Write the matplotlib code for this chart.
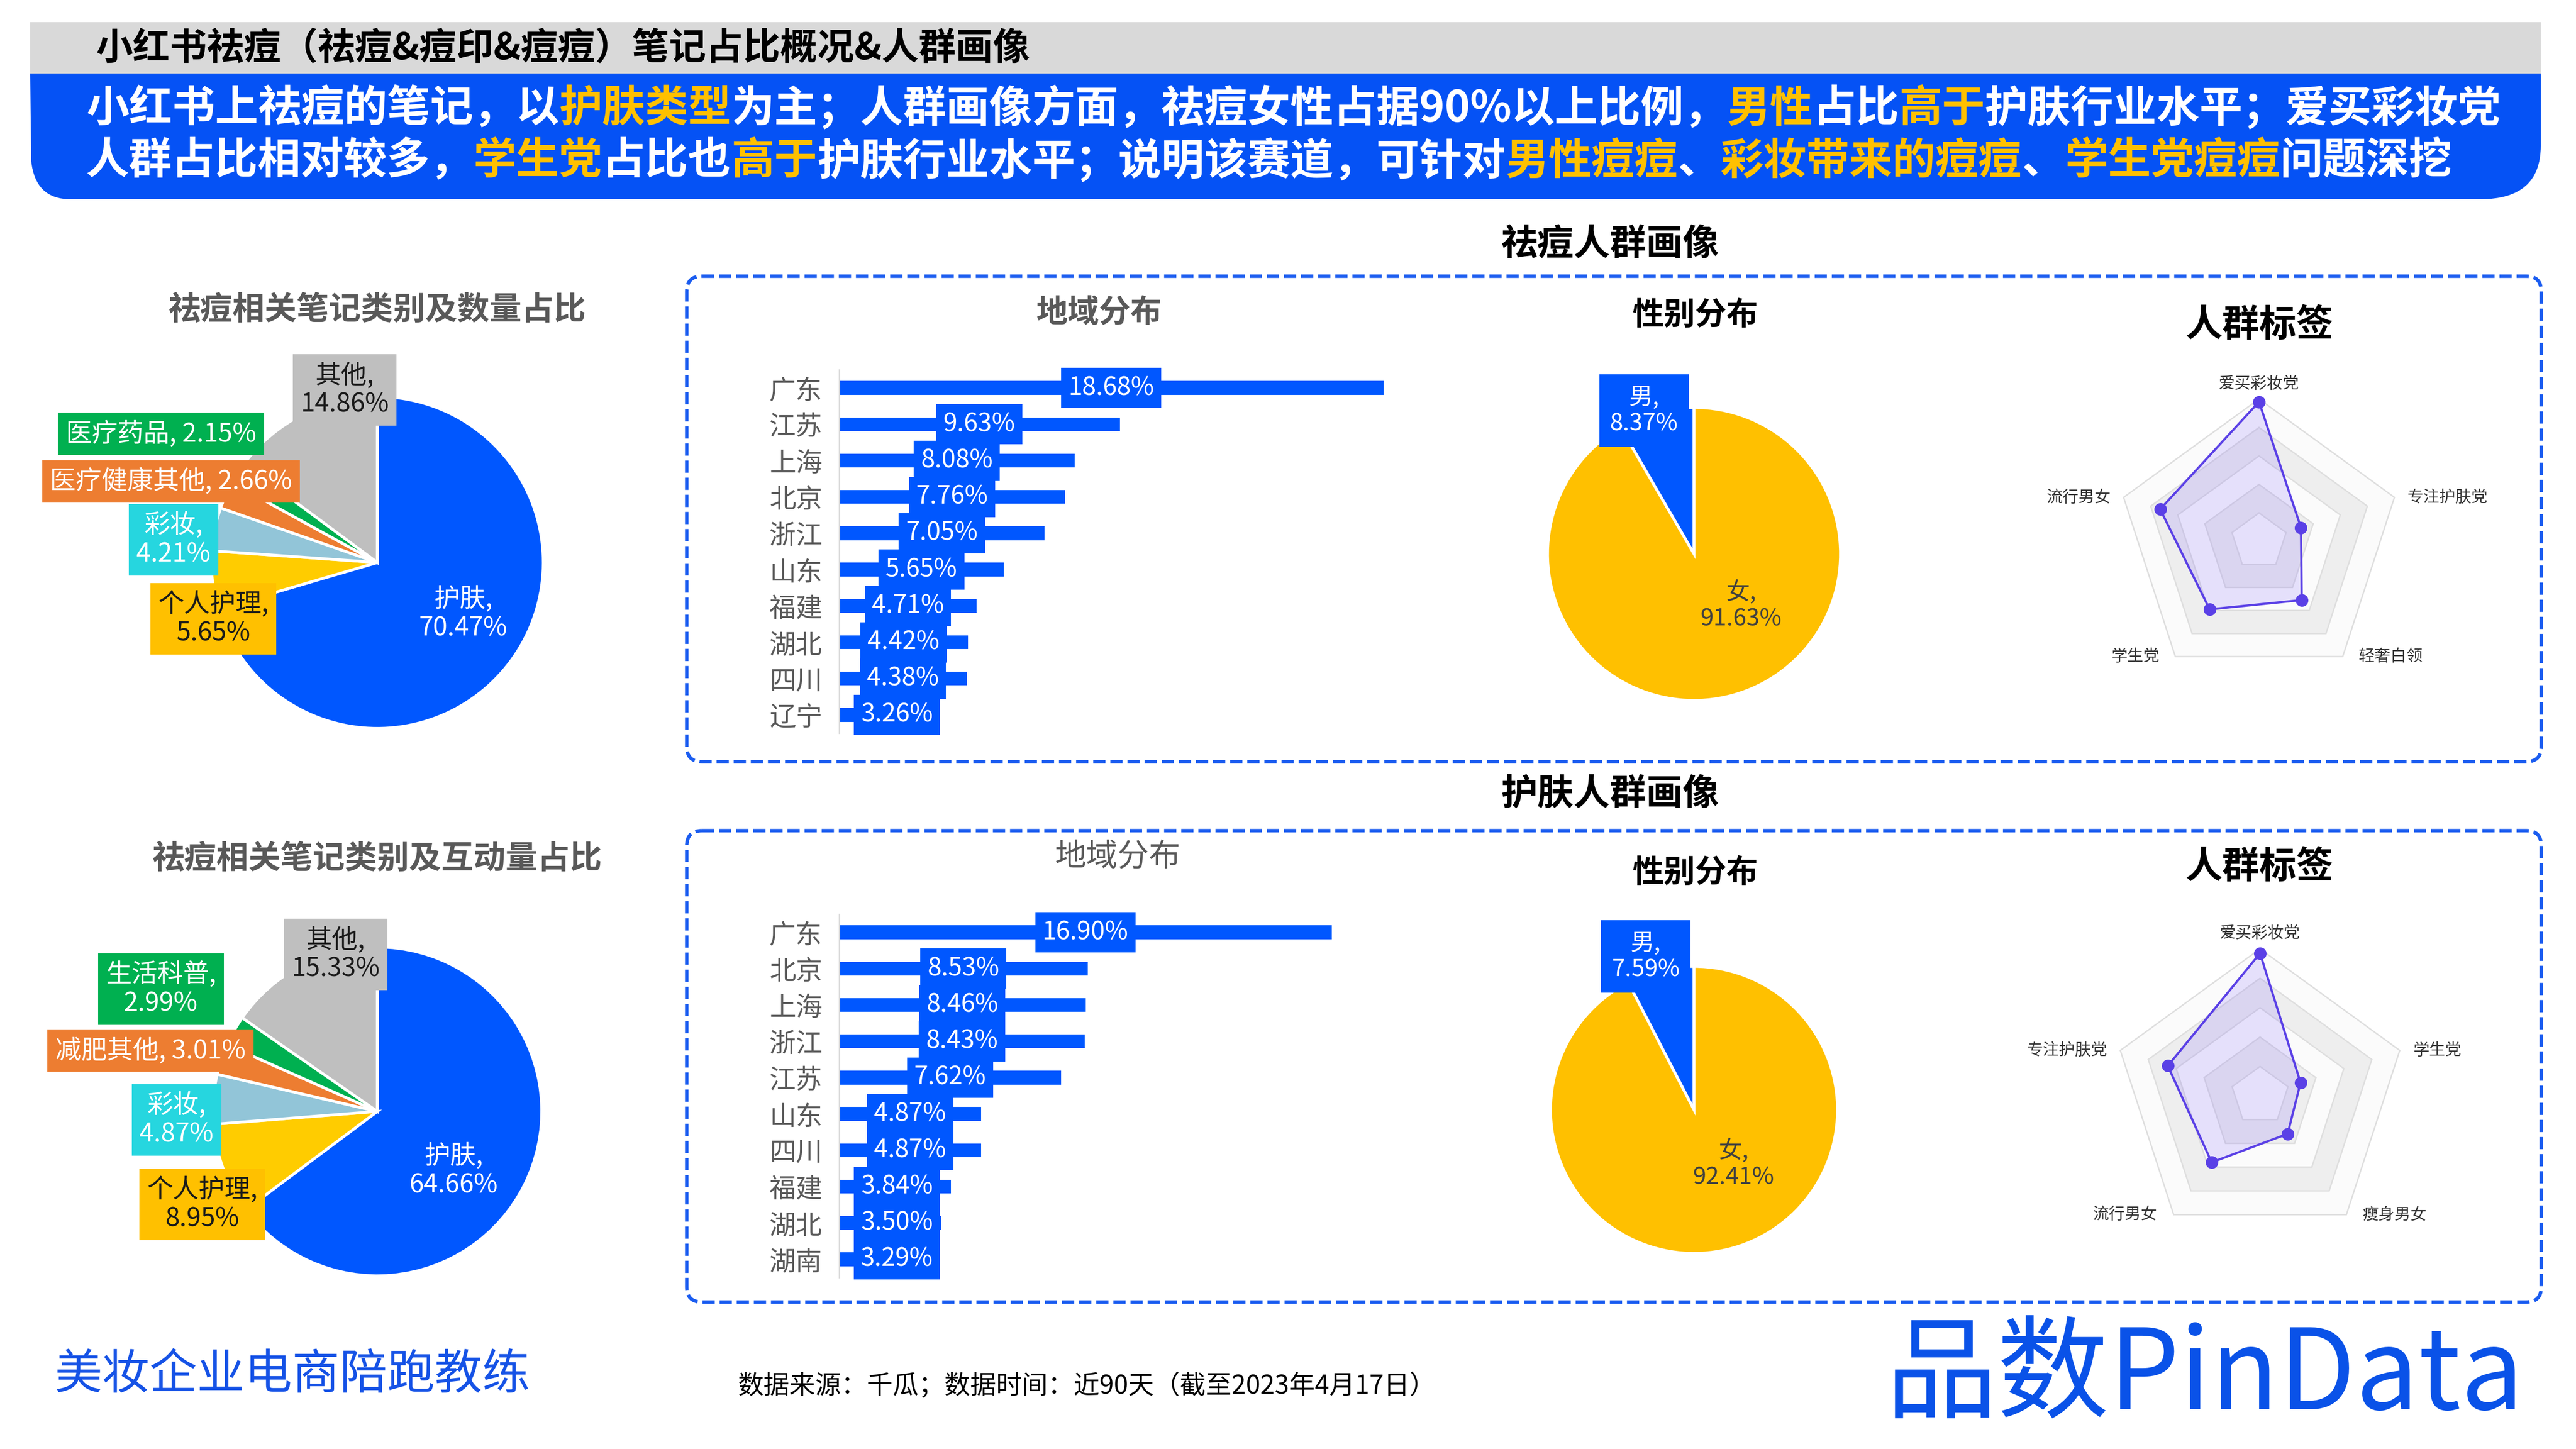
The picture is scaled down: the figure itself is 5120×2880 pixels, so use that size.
# Rebuilds the 小红书祛痘 note share / audience profile slide
import numpy as np
import matplotlib.pyplot as plt
from matplotlib.patches import FancyBboxPatch, Rectangle, PathPatch
from matplotlib.path import Path

plt.rcParams['font.family'] = ['Noto Sans CJK SC', 'DejaVu Sans']

W, H = 5120, 2880
BLUE = '#0057ff'
YELLOW = '#ffc000'
PURPLE = '#5a40e6'
GREY_TXT = '#595959'

# left pies: note categories by count and by interactions (%)
count_labels = ['护肤', '个人护理', '彩妆', '医疗健康其他', '医疗药品', '其他']
count_values = [70.47, 5.65, 4.21, 2.66, 2.15, 14.86]
inter_labels = ['护肤', '个人护理', '彩妆', '减肥其他', '生活科普', '其他']
inter_values = [64.66, 8.95, 4.87, 3.01, 2.99, 15.33]

# region share (%)
acne_regions = ['广东', '江苏', '上海', '北京', '浙江', '山东', '福建', '湖北', '四川', '辽宁']
acne_region_pct = [18.68, 9.63, 8.08, 7.76, 7.05, 5.65, 4.71, 4.42, 4.38, 3.26]
skin_regions = ['广东', '北京', '上海', '浙江', '江苏', '山东', '四川', '福建', '湖北', '湖南']
skin_region_pct = [16.90, 8.53, 8.46, 8.43, 7.62, 4.87, 4.87, 3.84, 3.50, 3.29]

# gender share (%)
gender_labels = ['男', '女']
acne_gender = [8.37, 91.63]
skin_gender = [7.59, 92.41]

acne_tags = ['爱买彩妆党', '专注护肤党', '轻奢白领', '学生党', '流行男女']
acne_tag_vals = [0.98, 0.31, 0.51, 0.59, 0.73]
skin_tags = ['爱买彩妆党', '学生党', '瘦身男女', '流行男女', '专注护肤党']
skin_tag_vals = [0.97, 0.29, 0.32, 0.56, 0.66]


def px_axes(fig, x0, y0, x1, y1):
	# axes from pixel box (y measured from the top)
	return fig.add_axes([x0 / W, 1 - y1 / H, (x1 - x0) / W, (y1 - y0) / H])


def seg_width(ax, s, size, renderer):
	# advance width of a string, padded so trailing punctuation counts
	t = ax.text(0, 0, '口' + s + '口', fontsize=size, fontweight='bold')
	w1 = t.get_window_extent(renderer).width
	t.set_text('口口')
	w2 = t.get_window_extent(renderer).width
	t.remove()
	return w1 - w2


def rich_line(ax, x, y, parts, size, renderer):
	for s, c in parts:
		ax.text(x, y, s, color=c, fontsize=size, fontweight='bold', ha='left', va='center')
		x += seg_width(ax, s, size, renderer)


def draw_pie(fig, cx, cy, r, values, colors, startangle, counterclock):
	ax = px_axes(fig, cx - r, cy - r, cx + r, cy + r)
	ax.pie(values, colors=colors, startangle=startangle, counterclock=counterclock,
		wedgeprops=dict(edgecolor='white', linewidth=4))
	ax.set_xlim(-1.01, 1.01)
	ax.set_ylim(-1.01, 1.01)
	return ax


def draw_bars(fig, top, names, vals):
	ax = px_axes(fig, 1668, top, 1668 + 1200, top + 722)
	y = np.arange(len(names))
	ax.barh(y, vals, height=0.38, color=BLUE)
	ax.set_ylim(len(names) - 0.5, -0.5)
	ax.set_xlim(0, 1200 / 57.9)
	ax.set_yticks(y, names)
	ax.set_xticks([])
	ax.tick_params(axis='y', length=0, labelsize=38, labelcolor=GREY_TXT, pad=24)
	for s in ['top', 'right', 'bottom']:
		ax.spines[s].set_visible(False)
	ax.spines['left'].set_color('#d9d9d9')
	ax.spines['left'].set_linewidth(2)
	ax.patch.set_alpha(0)
	for yi, v in zip(y, vals):
		ax.text(max(v / 2, 1.98), yi, '%.2f%%' % v, ha='center', va='center', color='white',
			fontsize=36, bbox=dict(boxstyle='square,pad=0.28', fc=BLUE, ec='none'))


def draw_radar(fig, cx, cy, R, tags, vals):
	half = 1.8
	ax = px_axes(fig, cx - half * R, cy - half * R, cx + half * R, cy + half * R)
	ax.set_xlim(-half, half)
	ax.set_ylim(-half, half)
	ax.axis('off')
	n = len(tags)
	ang = np.arange(n) * 2 * np.pi / n
	ux, uy = np.sin(ang), np.cos(ang)
	# split areas, outer to inner
	for i, lev in enumerate([1.0, 0.8, 0.6, 0.4, 0.2]):
		fc = '#fbfbfb' if i % 2 == 0 else '#eeeeee'
		ax.fill(ux * lev, uy * lev, fc=fc, ec='#dedede', lw=2)
	v = np.array(vals)
	x, y = ux * v, uy * v
	ax.fill(x, y, color='#7a5cff', alpha=0.17, lw=0)
	ax.plot(np.append(x, x[0]), np.append(y, y[0]), color=PURPLE, lw=3.2)
	ax.plot(x, y, 'o', color=PURPLE, ms=17)
	for t, a, b in zip(tags, ux, uy):
		if abs(a) < 0.1:
			ax.text(a, b + 0.05, t, ha='center', va='bottom', fontsize=23, color='#333333')
		else:
			off = 0.09 if b > 0 else 0.11
			ax.text(a + np.sign(a) * off, b, t, ha='left' if a > 0 else 'right', va='center',
				fontsize=23, color='#333333')


def main():
	fig = plt.figure(figsize=(W / 100, H / 100), dpi=100)
	fig.patch.set_facecolor('white')
	renderer = fig.canvas.get_renderer()

	# background layer in pixel coordinates
	bg = fig.add_axes([0, 0, 1, 1])
	bg.set_xlim(0, W)
	bg.set_ylim(H, 0)
	bg.axis('off')
	bg.add_patch(Rectangle((60, 44), 4990, 102, fc='#d9d9d9', ec='none'))
	verts = [(60, 146), (5050, 146), (5050, 290), (5050, 396), (4930, 396),
		(140, 396), (70, 396), (62, 320), (60, 146)]
	codes = [Path.MOVETO, Path.LINETO, Path.LINETO, Path.CURVE3, Path.CURVE3,
		Path.LINETO, Path.CURVE3, Path.CURVE3, Path.CLOSEPOLY]
	bg.add_patch(PathPatch(Path(verts, codes), fc='#0552f5', ec='none'))
	for y0, y1 in [(549, 1514), (1651, 2588)]:
		bg.add_patch(FancyBboxPatch((1365, y0), 3686, y1 - y0,
			boxstyle='round,pad=0,rounding_size=30', fc='none', ec='#1a5cf0',
			lw=5, ls=(0, (3.5, 1.4))))

	# left pies
	slice_cols = [BLUE, '#ffcc00', '#92c5d8', '#ed7d31', '#00b050', '#bfbfbf']
	box_cols = [None, YELLOW, '#26d6df', '#ed7d31', '#00b050', '#bfbfbf']
	txt_cols = ['white', '#1a1a1a', 'white', 'white', 'white', '#1a1a1a']
	draw_pie(fig, 750, 1118, 333, count_values, slice_cols, 90, False)
	draw_pie(fig, 750, 2209, 330, inter_values, slice_cols, 90, False)

	# gender pies
	draw_pie(fig, 3367, 1101, 294, acne_gender, [BLUE, YELLOW], 90, True)
	draw_pie(fig, 3367, 2206, 288, skin_gender, [BLUE, YELLOW], 90, True)

	# region bars
	draw_bars(fig, 735, acne_regions, acne_region_pct)
	draw_bars(fig, 1817, skin_regions, skin_region_pct)

	# crowd tag radars
	draw_radar(fig, 4490, 1076, 283, acne_tags, acne_tag_vals)
	draw_radar(fig, 4492, 2178, 292, skin_tags, skin_tag_vals)

	# foreground text layer
	fg = fig.add_axes([0, 0, 1, 1])
	fg.set_xlim(0, W)
	fg.set_ylim(H, 0)
	fg.axis('off')
	fg.patch.set_alpha(0)

	fg.text(190, 96, '小红书祛痘（祛痘&痘印&痘痘）笔记占比概况&人群画像', fontsize=53,
		fontweight='bold', color='black', va='center')
	wt, yl = 'white', YELLOW
	line1 = [('小红书上祛痘的笔记，以', wt), ('护肤类型', yl), ('为主；人群画像方面，祛痘女性占据90%以上比例，', wt),
		('男性', yl), ('占比', wt), ('高于', yl), ('护肤行业水平；爱买彩妆党', wt)]
	line2 = [('人群占比相对较多，', wt), ('学生党', yl), ('占比也', wt), ('高于', yl),
		('护肤行业水平；说明该赛道，可针对', wt), ('男性痘痘', yl), ('、', wt),
		('彩妆带来的痘痘', yl), ('、', wt), ('学生党痘痘', yl), ('问题深挖', wt)]
	rich_line(fg, 171, 216, line1, 61.6, renderer)
	rich_line(fg, 171, 320, line2, 61.6, renderer)

	# pie titles and labels
	fg.text(750, 617, '祛痘相关笔记类别及数量占比', fontsize=46, fontweight='bold', color=GREY_TXT,
		ha='center', va='center')
	fg.text(750, 1708, '祛痘相关笔记类别及互动量占比', fontsize=46, fontweight='bold', color=GREY_TXT,
		ha='center', va='center')
	count_pos = [(920, 1220), (424, 1230), (345, 1073), (340, 957), (320, 862), (685, 775)]
	count_two = [True, True, True, False, False, True]
	inter_pos = [(901, 2327), (402, 2394), (351, 2226), (299, 2088), (320, 1966), (667, 1897)]
	inter_two = [True, True, True, False, True, True]
	for labels, vals, pos, two in [(count_labels, count_values, count_pos, count_two),
			(inter_labels, inter_values, inter_pos, inter_two)]:
		for i in range(len(labels)):
			sep = ',\n' if two[i] else ', '
			bbox = None
			if box_cols[i]:
				bbox = dict(boxstyle='square,pad=0.3', fc=box_cols[i], ec='none')
			fg.text(pos[i][0], pos[i][1], labels[i] + sep + '%.2f%%' % vals[i], fontsize=37,
				color=txt_cols[i], ha='center', va='center', linespacing=1.1, bbox=bbox)

	# section titles
	fg.text(3200, 485, '祛痘人群画像', fontsize=52, fontweight='bold', ha='center', va='center')
	fg.text(3200, 1579, '护肤人群画像', fontsize=52, fontweight='bold', ha='center', va='center')
	fg.text(2185, 621, '地域分布', fontsize=45, fontweight='bold', color=GREY_TXT, ha='center', va='center')
	fg.text(2222, 1703, '地域分布', fontsize=45, color=GREY_TXT, ha='center', va='center')
	fg.text(3369, 626, '性别分布', fontsize=45, fontweight='bold', ha='center', va='center')
	fg.text(3369, 1734, '性别分布', fontsize=45, fontweight='bold', ha='center', va='center')
	fg.text(4491, 647, '人群标签', fontsize=53, fontweight='bold', ha='center', va='center')
	fg.text(4491, 1724, '人群标签', fontsize=53, fontweight='bold', ha='center', va='center')

	# gender labels
	for vals, mpos, fpos in [(acne_gender, (3268, 816), (3461, 1204)),
			(skin_gender, (3271, 1901), (3446, 2314))]:
		fg.text(mpos[0], mpos[1], gender_labels[0] + ',\n' + '%.2f%%' % vals[0], fontsize=34,
			color='white', ha='center', va='center', linespacing=1.1,
			bbox=dict(boxstyle='square,pad=0.45', fc=BLUE, ec='none'))
		fg.text(fpos[0], fpos[1], gender_labels[1] + ',\n' + '%.2f%%' % vals[1], fontsize=34,
			color='#404040', ha='center', va='center', linespacing=1.1)

	# footer
	fg.text(108, 2733, '美妆企业电商陪跑教练', fontsize=68, color='#1552e6', va='center')
	fg.text(1466, 2756, '数据来源：千瓜；数据时间：近90天（截至2023年4月17日）', fontsize=37,
		color='black', va='center')
	fg.text(3748, 2738, '品数PinData', fontsize=160, color='#0a52e8', fontweight='medium', va='center')

	fig.savefig('out.png', dpi=100, facecolor='white')


if __name__ == "__main__":
	main()
